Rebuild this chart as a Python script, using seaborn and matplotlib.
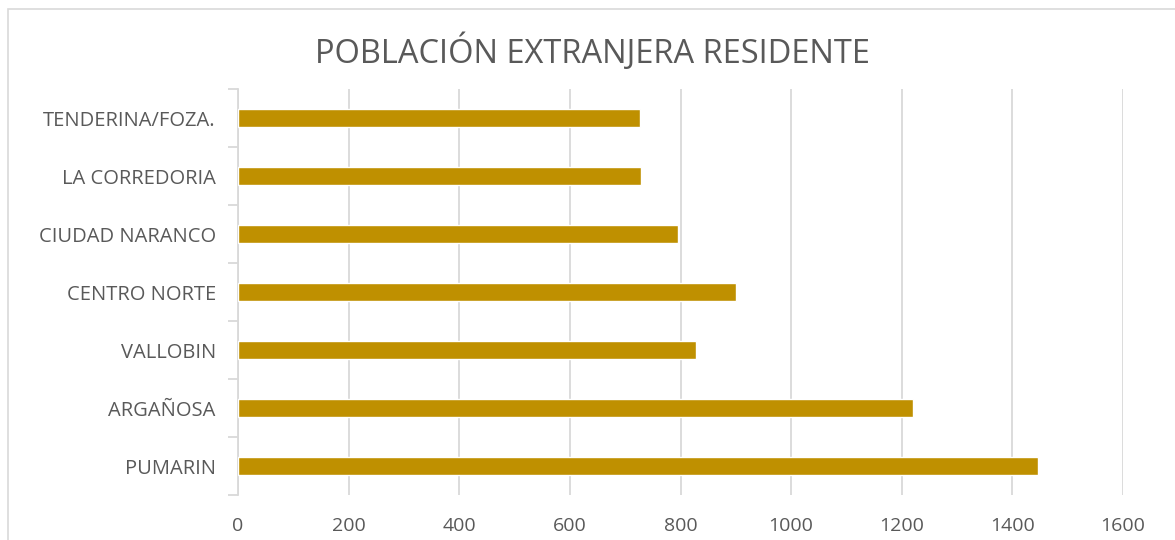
import pandas as pd
import seaborn as sns
import matplotlib.pyplot as plt
from matplotlib.patches import Rectangle

# values (top to bottom)
barrios = ['TENDERINA/FOZA.', 'LA CORREDORIA', 'CIUDAD NARANCO', 'CENTRO NORTE',
           'VALLOBIN', 'ARGAÑOSA', 'PUMARIN']
poblacion = [727, 729, 796, 900, 828, 1221, 1447]
x_ticks = [0, 200, 400, 600, 800, 1000, 1200, 1400, 1600]

df = pd.DataFrame({'barrio': barrios, 'poblacion': poblacion})

sns.set_style("white")
plt.rcParams['font.family'] = ['Open Sans', 'DejaVu Sans']

text_col = '#595959'
grid_col = '#D9D9D9'

fig = plt.figure(figsize=(11.75, 5.4), dpi=100)
ax = fig.add_axes([238 / 1175, 45 / 540, 885 / 1175, 406 / 540])

sns.barplot(data=df, x='poblacion', y='barrio', orient='h', color='#BF9000',
            saturation=1, width=0.316, ax=ax, zorder=3)

ax.set_xlim(0, 1600)
ax.set_xticks(x_ticks)
ax.set_xticklabels([str(t) for t in x_ticks])
ax.set_ylim(len(barrios) - 0.5, -0.5)
ax.set_xlabel('')
ax.set_ylabel('')

ax.grid(axis='x', color=grid_col, lw=1.3, zorder=0)
ax.grid(axis='y', visible=False)
for side in ['top', 'right', 'bottom']:
    ax.spines[side].set_visible(False)
ax.spines['left'].set_color(grid_col)
ax.spines['left'].set_linewidth(1.3)

# tick marks between categories, like the original
ax.set_yticks([i - 0.5 for i in range(len(barrios) + 1)], minor=True)
ax.tick_params(axis='y', which='minor', left=True, length=7, color=grid_col, width=1.3)
ax.tick_params(axis='y', which='major', length=0, pad=16, labelsize=14.5, labelcolor=text_col)
ax.tick_params(axis='x', length=0, pad=16, labelsize=14, labelcolor=text_col)

fig.text(592 / 1175, 1 - 52 / 540, 'POBLACIÓN EXTRANJERA RESIDENTE', ha='center', va='center',
         fontsize=23.5, color=text_col)

# chart border
fig.patches.append(Rectangle((8 / 1175, -0.1), 1.2, 1 - 9 / 540 + 0.1, transform=fig.transFigure,
                             fill=False, edgecolor=grid_col, lw=1.2))

fig.savefig('out.png', dpi=100, facecolor='white')
